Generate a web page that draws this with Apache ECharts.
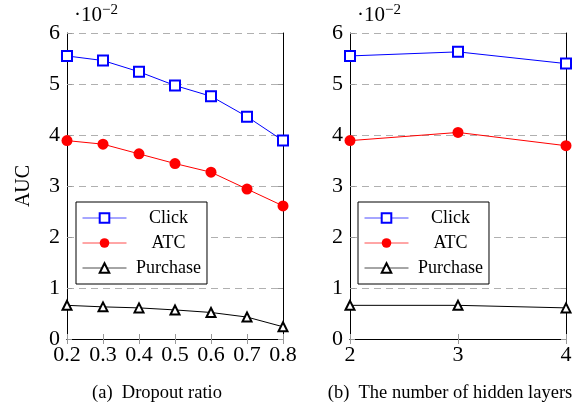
<!DOCTYPE html>
<html><head><meta charset="utf-8">
<script src="https://cdn.jsdelivr.net/npm/echarts@6/dist/echarts.min.js"></script>
<style>html,body{margin:0;padding:0;background:#fff}#c{width:587px;height:406px}</style>
</head><body><div id="c"></div>
<script>
const dropout = [0.2, 0.3, 0.4, 0.5, 0.6, 0.7, 0.8];
const clickA = [5.55, 5.46, 5.24, 4.97, 4.76, 4.36, 3.89];
const atcA = [3.89, 3.82, 3.63, 3.44, 3.27, 2.94, 2.61];
const purchaseA = [0.66, 0.63, 0.61, 0.57, 0.52, 0.43, 0.24];
const layers = [2, 3, 4];
const clickB = [5.55, 5.63, 5.40];
const atcB = [3.89, 4.05, 3.79];
const purchaseB = [0.66, 0.66, 0.61];
const yTicks = [0, 1, 2, 3, 4, 5, 6];
const captions = ['(a)  Dropout ratio', '(b)  The number of hidden layers'];

const FONT = 'Liberation Serif';
const pair = (xs, ys) => xs.map((x, i) => [x, ys[i]]);

function xAxes(gi, min, max, interval, fmt) {
  const base = {
    type: 'value', gridIndex: gi, min: min, max: max, interval: interval,
    axisLine: {lineStyle: {color: '#000', width: 1}},
    axisTick: {inside: true, length: 5, lineStyle: {color: '#999'}},
    splitLine: {show: false}
  };
  return [
    Object.assign({}, base, {position: 'bottom',
      axisLabel: {color: '#000', fontFamily: FONT, fontSize: 22, margin: 5, formatter: fmt}}),
    Object.assign({}, base, {position: 'top', axisLabel: {show: false}})
  ];
}
function yAxes(gi, withName) {
  const base = {
    type: 'value', gridIndex: gi, min: yTicks[0], max: yTicks[yTicks.length - 1], interval: 1,
    axisLine: {show: true, lineStyle: {color: '#000', width: 1}},
    axisTick: {show: true, inside: true, length: 5, lineStyle: {color: '#999'}}
  };
  return [
    Object.assign({}, base, {position: 'left',
      name: withName ? 'AUC' : '', nameLocation: 'middle', nameGap: 33,
      nameTextStyle: {fontFamily: FONT, fontSize: 20, color: '#000'},
      axisLabel: {color: '#000', fontFamily: FONT, fontSize: 22, margin: 7},
      splitLine: {show: true, lineStyle: {color: '#b0b0b0', type: [7, 5], width: 1}}}),
    Object.assign({}, base, {position: 'right', axisLabel: {show: false}, splitLine: {show: false}})
  ];
}
const STYLE = {
  Click: {symbol: 'emptyRect', symbolSize: 10, color: '#0000ff'},
  ATC: {symbol: 'circle', symbolSize: 11, color: '#ff0000'},
  Purchase: {symbol: 'emptyTriangle', symbolSize: 9, color: '#000'}
};
function series(name, xi, yi, data) {
  const st = STYLE[name];
  return {
    name: name, type: 'line', xAxisIndex: xi, yAxisIndex: yi, data: data,
    symbol: st.symbol, symbolSize: st.symbolSize, color: st.color,
    itemStyle: {color: st.color, borderWidth: 1},
    lineStyle: {color: st.color, width: 1}, animation: false
  };
}
function legend(left) {
  return {
    left: left, top: 202, orient: 'vertical', data: ['Click', 'ATC', 'Purchase'],
    borderColor: '#000', borderWidth: 1, borderRadius: 0, backgroundColor: '#fff',
    padding: [7, 6, 7, 6], itemGap: 7, itemWidth: 44, itemHeight: 12,
    itemStyle: {borderWidth: 1},
    lineStyle: {width: 1, opacity: 0.7},
    formatter: n => '{t|' + n + '}',
    textStyle: {fontFamily: FONT, fontSize: 18, color: '#000',
      rich: {t: {fontFamily: FONT, fontSize: 18, color: '#000', width: 74, align: 'center'}}}
  };
}
const SUP = {fontFamily: FONT, fontSize: 15, verticalAlign: 'top', padding: [0, 0, 10, 0], fill: '#000'};
const chart = echarts.init(document.getElementById('c'), null, {renderer: 'canvas'});
chart.setOption({
  backgroundColor: '#fff',
  animation: false,
  grid: [
    {left: 67, right: 304, top: 33, bottom: 67},
    {left: 350, right: 21, top: 33, bottom: 67}
  ],
  xAxis: [].concat(
    xAxes(0, dropout[0], dropout[dropout.length - 1], 0.1, v => v.toFixed(1)),
    xAxes(1, layers[0], layers[layers.length - 1], 1, v => String(v))
  ),
  yAxis: [].concat(yAxes(0, true), yAxes(1, false)),
  legend: [legend(76), legend(358)],
  series: [
    series('Click', 0, 0, pair(dropout, clickA)),
    series('ATC', 0, 0, pair(dropout, atcA)),
    series('Purchase', 0, 0, pair(dropout, purchaseA)),
    series('Click', 2, 2, pair(layers, clickB)),
    series('ATC', 2, 2, pair(layers, atcB)),
    series('Purchase', 2, 2, pair(layers, purchaseB))
  ],
  graphic: [
    {type: 'text', left: 74, top: 3, style: {text: '·10{s|−2}', fontFamily: FONT, fontSize: 21, fill: '#000', rich: {s: SUP}}},
    {type: 'text', left: 357, top: 3, style: {text: '·10{s|−2}', fontFamily: FONT, fontSize: 21, fill: '#000', rich: {s: SUP}}},
    {type: 'text', x: 157, y: 393, style: {text: captions[0], fontFamily: FONT, fontSize: 18.5, fill: '#000', align: 'center', verticalAlign: 'middle'}},
    {type: 'text', x: 450, y: 393, style: {text: captions[1], fontFamily: FONT, fontSize: 18.5, fill: '#000', align: 'center', verticalAlign: 'middle'}}
  ]
});
</script></body></html>
